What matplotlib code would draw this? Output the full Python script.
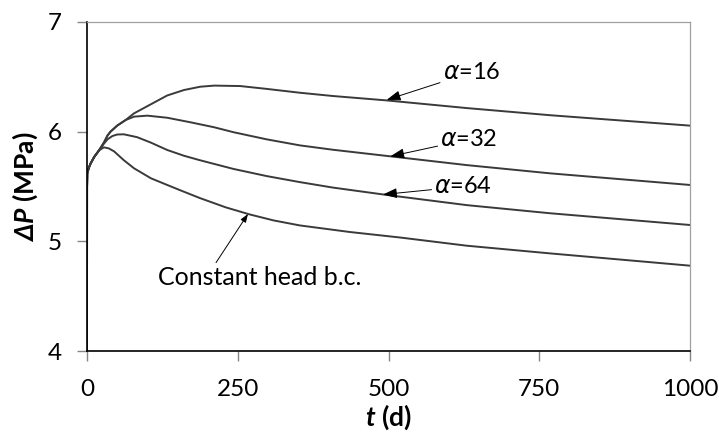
import numpy as np
import matplotlib
matplotlib.use('Agg')
import matplotlib.pyplot as plt

plt.rcParams['font.family'] = ['Lato', 'DejaVu Sans']
plt.rcParams['mathtext.fontset'] = 'custom'
plt.rcParams['mathtext.rm'] = 'Lato'
plt.rcParams['mathtext.it'] = 'Lato:italic'
plt.rcParams['mathtext.bf'] = 'Lato:bold'
plt.rcParams['mathtext.bfit'] = 'Lato:italic:bold'

# valeurs (t en jours, dP en MPa)
t_16 = [0, 0.1, 0.5, 3, 6, 12, 20, 28, 34, 39, 50, 64, 78, 106, 133, 161, 188, 211, 254, 298, 353, 408, 497, 630, 768, 1000]
dp_16 = [4.0, 5.5, 5.62, 5.67, 5.71, 5.77, 5.83, 5.90, 5.965, 6.0, 6.055, 6.106, 6.167, 6.25, 6.33, 6.38, 6.41, 6.42, 6.416, 6.39, 6.355, 6.325, 6.285, 6.215, 6.15, 6.055]

t_32 = [0, 0.1, 0.5, 3, 6, 12, 20, 28, 34, 39, 50, 64, 78, 100, 133, 172, 211, 243, 298, 353, 408, 508, 630, 768, 1000]
dp_32 = [4.0, 5.5, 5.62, 5.67, 5.71, 5.77, 5.83, 5.90, 5.965, 6.0, 6.055, 6.106, 6.137, 6.146, 6.127, 6.085, 6.04, 5.995, 5.93, 5.875, 5.835, 5.772, 5.695, 5.62, 5.514]

t_64 = [0, 0.1, 0.5, 3, 6, 12, 20, 28, 34, 42, 50, 61, 83, 106, 133, 161, 187, 243, 298, 353, 408, 497, 630, 768, 1000]
dp_64 = [4.0, 5.5, 5.62, 5.67, 5.71, 5.77, 5.83, 5.89, 5.93, 5.96, 5.974, 5.976, 5.95, 5.90, 5.833, 5.78, 5.74, 5.66, 5.595, 5.54, 5.49, 5.423, 5.33, 5.256, 5.149]

t_ch = [0, 0.1, 0.5, 3, 6, 12, 20, 28, 36, 45, 61, 78, 106, 133, 155, 187, 230, 270, 310, 353, 436, 519, 630, 768, 1000]
dp_ch = [4.0, 5.5, 5.62, 5.67, 5.71, 5.77, 5.83, 5.857, 5.848, 5.82, 5.74, 5.666, 5.575, 5.514, 5.465, 5.395, 5.31, 5.245, 5.19, 5.145, 5.085, 5.035, 4.96, 4.89, 4.778]

fig = plt.figure(figsize=(7.19, 4.32), dpi=100)
ax = fig.add_axes([87/719, 1 - 351/432, (690 - 87)/719, (351 - 22)/432])

for t, dp in [(t_16, dp_16), (t_32, dp_32), (t_64, dp_64), (t_ch, dp_ch)]:
    ax.plot(t, dp, color='#3a3a3a', lw=1.4, solid_joinstyle='round')

ax.set_xlim(0, 1000)
ax.set_ylim(4, 7)
ax.set_xticks([0, 250, 500, 750, 1000])
ax.set_yticks([4, 5, 6, 7])
ax.tick_params(direction='out', length=7, width=1, color='#868686', labelsize=17.5)
ax.tick_params(axis='x', pad=13)
ax.tick_params(axis='y', pad=11)

for s in ['top', 'right']:
    ax.spines[s].set_color('#a0a0a0')
    ax.spines[s].set_linewidth(0.9)
for s in ['left', 'bottom']:
    ax.spines[s].set_color('black')
    ax.spines[s].set_linewidth(1.2)

ax.set_xlabel(r'$\mathbfit{t}$ (d)', fontsize=19, fontweight='bold', labelpad=2)
ax.set_ylabel(r'$\mathbfit{\Delta P}$ (MPa)', fontsize=19, fontweight='bold', labelpad=6)

arr = dict(arrowstyle='-|>,head_length=0.5,head_width=0.18', color='black', lw=0.7, shrinkA=0, shrinkB=0)
ax.annotate(r'$\alpha$=16', xy=(497, 6.29), xytext=(590, 6.54), fontsize=17,
            va='center', ha='left', arrowprops=arr, math_fontfamily='dejavusans')
ax.annotate(r'$\alpha$=32', xy=(503, 5.775), xytext=(586, 5.93), fontsize=17,
            va='center', ha='left', arrowprops=arr, math_fontfamily='dejavusans')
ax.annotate(r'$\alpha$=64', xy=(491, 5.427), xytext=(576, 5.50), fontsize=17,
            va='center', ha='left', arrowprops=arr, math_fontfamily='dejavusans')
ax.annotate('', xy=(267, 5.25), xytext=(214, 4.806), arrowprops=arr)
ax.text(118, 4.67, 'Constant head b.c.', fontsize=18, va='center', ha='left')

plt.savefig('out.png', dpi=100)
